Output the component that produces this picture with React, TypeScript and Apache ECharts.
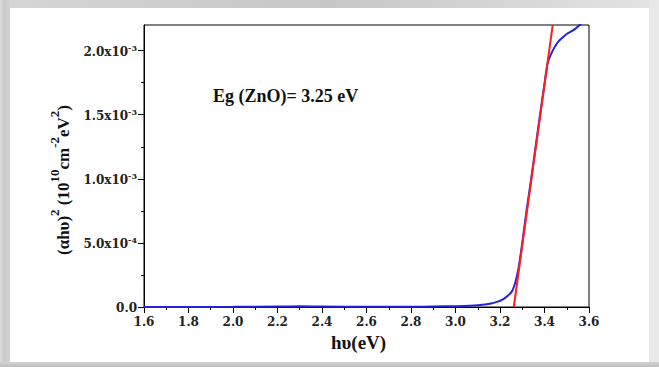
import React, { useEffect, useRef } from "react";
import * as echarts from "echarts";

// ---- data ----
const blueX = [1.6, 1.8, 2.0, 2.2, 2.3, 2.4, 2.6, 2.8, 2.9, 3.0, 3.065, 3.1, 3.155, 3.19, 3.215, 3.235, 3.253, 3.265, 3.275, 3.285, 3.3, 3.32, 3.34, 3.36, 3.38, 3.4, 3.415, 3.43, 3.44, 3.45, 3.462, 3.48, 3.5, 3.53, 3.565];
const blueY = [0, 0, 0.000001, 0.000004, 0.000005, 0.000003, 0.000001, 0.000002, 0.000004, 0.000006, 0.000009, 0.000013, 0.000025, 0.000042, 0.000062, 0.000088, 0.00012, 0.00017, 0.000235, 0.00032, 0.0005, 0.00076, 0.001, 0.00125, 0.0015, 0.00174, 0.00191, 0.001975, 0.00201, 0.00204, 0.00207, 0.0021, 0.00213, 0.00216, 0.00221];
const fitX = [3.262, 3.437];
const fitY = [0, 0.0022];
const xTicks = [1.6, 1.8, 2.0, 2.2, 2.4, 2.6, 2.8, 3.0, 3.2, 3.4, 3.6];
const yTicks = [0, 0.0005, 0.001, 0.0015, 0.002];
const yMinorTicks = [0.00025, 0.00075, 0.00125, 0.00175];
const annotation = "Eg (ZnO)= 3.25 eV";
const xTitle = "hυ(eV)";
const yTitle = "{a|(αhυ)}{s|2}{a| (10}{s|10}{a|cm}{s|-2}{a|eV}{s|2}{a|)}";

const serif = "'Liberation Serif', 'Times New Roman', serif";
const tickFont = "'DejaVu Serif', 'Liberation Serif', serif";

function yLabel(v: number): string {
  if (Math.abs(v) < 1e-12) return "{m|0.0}";
  const exp = Math.floor(Math.log10(v) + 1e-9);
  const mant = v / Math.pow(10, exp);
  return `{m|${mant.toFixed(1)}x10}{s|${exp}}`;
}

export default function App() {
  const ref = useRef<HTMLDivElement>(null);
  useEffect(() => {
    if (!ref.current) return;
    const chart = echarts.init(ref.current, undefined, { renderer: "svg" });
    const grid = { left: 144, right: 70, top: 25, bottom: 60 };
    chart.setOption({
      animation: false,
      backgroundColor: "#ffffff",
      grid: { ...grid, show: true, borderColor: "#000", borderWidth: 1, containLabel: false },
      xAxis: {
        type: "value",
        min: 1.6,
        max: 3.6,
        interval: 0.2,
        name: xTitle,
        nameLocation: "middle",
        nameGap: 26,
        nameTextStyle: { fontFamily: serif, fontWeight: "bold", fontSize: 19, color: "#111", padding: [0, 16, 0, 0] },
        axisLine: { show: true, lineStyle: { color: "#000", width: 1 } },
        axisTick: { show: true, inside: false, length: 6, lineStyle: { color: "#000" }, customValues: xTicks },
        minorTick: { show: true, splitNumber: 2, length: 3, lineStyle: { color: "#000" } },
        splitLine: { show: false },
        axisLabel: {
          customValues: xTicks,
          margin: 9,
          color: "#222",
          fontFamily: tickFont,
          fontWeight: "bold",
          fontSize: 12,
          formatter: (v: number) => v.toFixed(1),
        },
      },
      yAxis: [
        {
          type: "value",
          min: 0,
          max: 0.0022,
          name: yTitle,
          nameLocation: "middle",
          nameRotate: 90,
          nameGap: 68,
          nameTextStyle: {
            color: "#111",
            padding: [0, 28, 0, 0],
            rich: {
              a: { fontFamily: serif, fontWeight: "bold", fontSize: 17, lineHeight: 24, verticalAlign: "bottom", color: "#111" },
              s: { fontFamily: serif, fontWeight: "bold", fontSize: 13, lineHeight: 13, verticalAlign: "top", color: "#111" },
            },
          },
          axisLine: { show: true, lineStyle: { color: "#000", width: 1 } },
          axisTick: { show: true, inside: false, length: 6, lineStyle: { color: "#000" }, customValues: yTicks },
          splitLine: { show: false },
          axisLabel: {
            customValues: yTicks,
            margin: 7,
            color: "#222",
            formatter: (v: number) => yLabel(v),
            rich: {
              m: { fontFamily: tickFont, fontWeight: "bold", fontSize: 12, lineHeight: 14, verticalAlign: "bottom", color: "#222" },
              s: { fontFamily: tickFont, fontWeight: "bold", fontSize: 8, lineHeight: 8, verticalAlign: "top", color: "#222" },
            },
          },
        },
        {
          type: "value",
          min: 0,
          max: 0.0022,
          position: "left",
          axisLine: { show: false },
          axisTick: { show: true, inside: false, length: 3, lineStyle: { color: "#000" }, customValues: yMinorTicks },
          axisLabel: { show: false },
          splitLine: { show: false },
        },
      ],
      series: [
        {
          type: "line",
          data: blueX.map((x, i) => [x, blueY[i]]),
          showSymbol: false,
          smooth: 0.3,
          clip: true,
          lineStyle: { color: "#2323d8", width: 2 },
          z: 2,
        },
        {
          type: "line",
          data: fitX.map((x, i) => [x, fitY[i]]),
          showSymbol: false,
          clip: true,
          lineStyle: { color: "#ff1f1f", width: 2 },
          z: 3,
        },
      ],
      graphic: [
        { type: "rect", shape: { x: 0, y: 0, width: 659, height: 8 }, style: { fill: new echarts.graphic.LinearGradient(0, 0, 1, 0, [{ offset: 0, color: "#d6d6d6" }, { offset: 0.5, color: "#c6c6c6" }, { offset: 1, color: "#e4e4e4" }]) }, silent: true },
        { type: "rect", shape: { x: 0, y: 0, width: 10, height: 367 }, style: { fill: new echarts.graphic.LinearGradient(0, 0, 1, 0, [{ offset: 0, color: "#dedede" }, { offset: 0.4, color: "#cacaca" }, { offset: 1, color: "#d2d2d2" }]) }, silent: true },
        { type: "rect", shape: { x: 649, y: 0, width: 10, height: 367 }, style: { fill: "#e8e8e8" }, silent: true },
        { type: "rect", shape: { x: 0, y: 362, width: 659, height: 5 }, style: { fill: new echarts.graphic.LinearGradient(0, 0, 0, 1, [{ offset: 0, color: "#d4d4d4" }, { offset: 1, color: "#bcbcbc" }]) }, silent: true },
        {
          type: "text",
          x: 213,
          y: 96,
          style: { text: annotation, font: `bold 18px ${serif}`, fill: "#111", textAlign: "left", textVerticalAlign: "middle" },
        },
      ],
    });
    return () => chart.dispose();
  }, []);
  return (
    <div
      ref={ref}
      style={{ position: "absolute", left: 0, top: 0, width: 659, height: 367, background: "#fff" }}
    />
  );
}
